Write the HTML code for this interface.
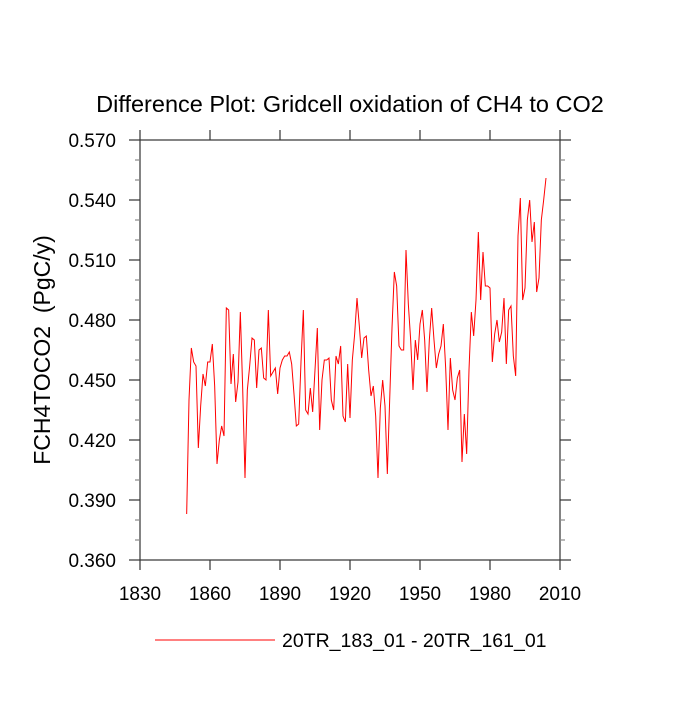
<!DOCTYPE html>
<html><head><meta charset="utf-8"><style>
body{margin:0;background:#fff;}
svg text{font-family:"Liberation Sans",sans-serif;fill:#000;}
</style></head><body>
<svg id="chart" width="700" height="700">
<text x="350" y="112" font-size="23.5" text-anchor="middle">Difference Plot: Gridcell oxidation of CH4 to CO2</text>
<text transform="translate(50,350) rotate(-90)" font-size="23" text-anchor="middle" xml:space="preserve">FCH4TOCO2  (PgC/y)</text>
<g id="axes"></g>
<polyline id="series" fill="none" stroke="#ff0000" stroke-width="1"/>
<line x1="155" y1="640" x2="275" y2="640" stroke="#ff0000" stroke-width="1"/>
<text x="282" y="647" font-size="19.5">20TR_183_01 - 20TR_161_01</text>
</svg>
<script>
const startYear = 1850;
const values = [0.383,0.440,0.466,0.459,0.457,0.416,0.437,0.453,0.447,0.459,
0.459,0.468,0.447,0.408,0.420,0.427,0.422,0.486,0.485,0.448,
0.463,0.439,0.449,0.484,0.446,0.401,0.445,0.457,0.471,0.470,
0.446,0.465,0.466,0.451,0.450,0.485,0.452,0.454,0.456,0.443,
0.456,0.460,0.462,0.462,0.464,0.458,0.443,0.427,0.428,0.459,
0.485,0.435,0.433,0.446,0.434,0.455,0.476,0.425,0.450,0.460,
0.460,0.461,0.440,0.435,0.462,0.458,0.467,0.432,0.429,0.458,
0.431,0.460,0.473,0.491,0.477,0.461,0.471,0.472,0.455,0.442,
0.447,0.432,0.401,0.436,0.450,0.437,0.403,0.440,0.476,0.504,
0.497,0.467,0.465,0.465,0.515,0.488,0.470,0.445,0.470,0.460,
0.478,0.485,0.470,0.444,0.470,0.486,0.470,0.456,0.463,0.467,
0.478,0.456,0.425,0.461,0.445,0.440,0.451,0.455,0.409,0.433,
0.413,0.455,0.484,0.472,0.490,0.524,0.490,0.514,0.497,0.497,
0.496,0.459,0.473,0.480,0.469,0.474,0.491,0.458,0.485,0.487,
0.462,0.452,0.522,0.541,0.490,0.496,0.530,0.540,0.519,0.529,
0.494,0.501,0.530,0.540,0.551];
const xTicks = [1830,1860,1890,1920,1950,1980,2010];
const yTicks = [0.360,0.390,0.420,0.450,0.480,0.510,0.540,0.570];
const X0=140,X1=560,Y0=140,Y1=560;
function sx(yr){return X0+(yr-1830)*(X1-X0)/180;}
function sy(v){return Y1-(v-0.36)*2000;}
const NS="http://www.w3.org/2000/svg";
const g=document.getElementById('axes');
function mk(tag,attrs){const e=document.createElementNS(NS,tag);for(const k in attrs)e.setAttribute(k,attrs[k]);g.appendChild(e);return e;}
const box=mk('rect',{x:X0,y:Y0,width:X1-X0,height:Y1-Y0,fill:'none',stroke:'#333','stroke-width':1.2});


xTicks.forEach(t=>{const x=sx(t);
 const l=mk('line',{x1:x,y1:Y1,x2:x,y2:Y1+10,stroke:'#333','stroke-width':1.2});
 
 
 const l2=mk('line',{x1:x,y1:Y0,x2:x,y2:Y0-10,stroke:'#333','stroke-width':1.2});
 
 
 const tx=mk('text',{x:x,y:Y1+40,'font-size':19,'text-anchor':'middle'});tx.textContent=t;
 
 
});
for(let v=0.36;v<=0.5701;v+=0.01){const y=sy(v);
 const major=Math.round(v*1000)%30===0;
 const len=major?11:5;
 const a=mk('line',{x1:X0-len,y1:y,x2:X0,y2:y,stroke:major?'#333':'#888','stroke-width':1.2});
 
 
 const b=mk('line',{x1:X1,y1:y,x2:X1+len,y2:y,stroke:major?'#333':'#888','stroke-width':1.2});
 
 
}
yTicks.forEach(v=>{const t=mk('text',{x:X0-24,y:sy(v)+7,'font-size':19,'text-anchor':'end'});t.textContent=v.toFixed(3);
 
 
});
document.getElementById('series').setAttribute('points',values.map((v,i)=>sx(startYear+i).toFixed(2)+','+sy(v).toFixed(2)).join(' '));
</script>
</body></html>
